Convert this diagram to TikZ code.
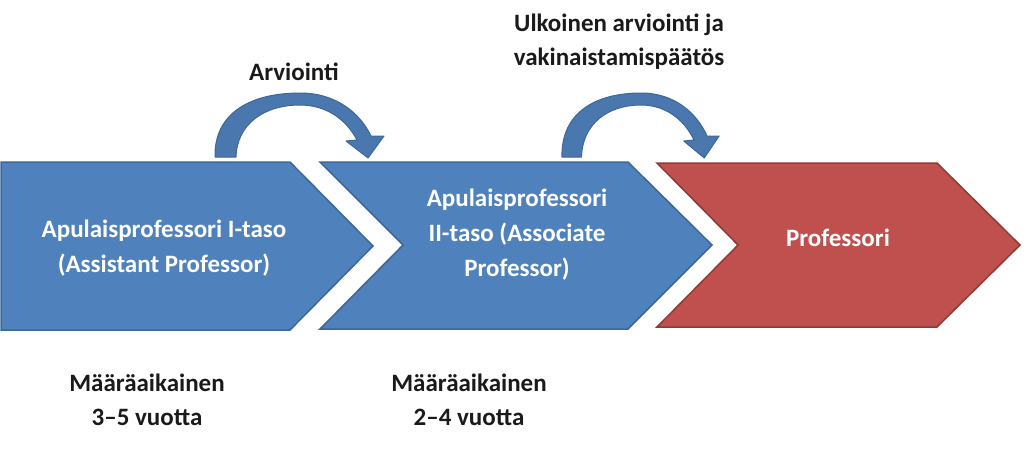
\documentclass[tikz,border=0pt]{standalone}
\usepackage{fontspec}
\setmainfont{Carlito}
\definecolor{bluefill}{HTML}{4F81BD}
\definecolor{blueline}{HTML}{3C679A}
\definecolor{redfill}{HTML}{C0504D}
\definecolor{redline}{HTML}{8E3A37}
\definecolor{txtdark}{HTML}{1A1A1A}
\begin{document}
\begin{tikzpicture}[x=1pt,y=-1pt,
  bluechev/.style={fill=bluefill,draw=blueline,line width=1.5pt,line join=miter},
  redchev/.style={fill=redfill,draw=redline,line width=1.5pt,line join=miter},
  curvearrow/.style={fill=bluefill!92!black,draw=blueline,line width=1pt,line join=round},
  intxt/.style={text=white,font=\fontsize{25}{35}\selectfont\bfseries,align=center,inner sep=0pt},
  outtxt/.style={text=txtdark,font=\fontsize{25}{34}\selectfont\bfseries,align=center,inner sep=0pt}]
\useasboundingbox (0,0) rectangle (1024,453);
% chevrons
\path[bluechev] (1,162) -- (290,162) -- (373,246) -- (290,330) -- (1,330) -- cycle;
\path[bluechev] (320,162) -- (628,162) -- (712,245) -- (628,329) -- (320,329) -- (403,245) -- cycle;
\path[redchev] (657,163) -- (937,163) -- (1020,245) -- (937,327) -- (657,327) -- (738,245) -- cycle;
% curved arrows
\path[curvearrow] (215,157) .. controls (214,112) and (252,93) .. (300,93)
  .. controls (336,93) and (360,113) .. (371,136) -- (384,136) -- (368,158) -- (346,141) -- (357,140)
  .. controls (346,119) and (326,105) .. (300,105)
  .. controls (264,105) and (237,124) .. (236,157) -- cycle;
\begin{scope}[shift={(362,0)},xscale=0.93]
\path[curvearrow] (215,157) .. controls (214,112) and (252,93) .. (300,93)
  .. controls (336,93) and (360,113) .. (371,136) -- (384,136) -- (368,158) -- (346,141) -- (357,140)
  .. controls (346,119) and (326,105) .. (300,105)
  .. controls (264,105) and (237,124) .. (236,157) -- cycle;
\end{scope}
% texts
\node[intxt] (t1) at (164,248) {Apulaisprofessori I-taso\\(Assistant Professor)};
\node[intxt] (t2) at (517,235) {Apulaisprofessori\\II-taso (Associate\\Professor)};
\node[intxt] (t3) at (838,238) {Professori};
\node[outtxt] (a1) at (294,72) {Arviointi};
\node[outtxt] (a2) at (619,42) {Ulkoinen arviointi ja\\vakinaistamispäätös};
\node[outtxt] (d1) at (147,400) {Määräaikainen\\3–5 vuotta};
\node[outtxt] (d2) at (469,400) {Määräaikainen\\2–4 vuotta};
\end{tikzpicture}
\end{document}
